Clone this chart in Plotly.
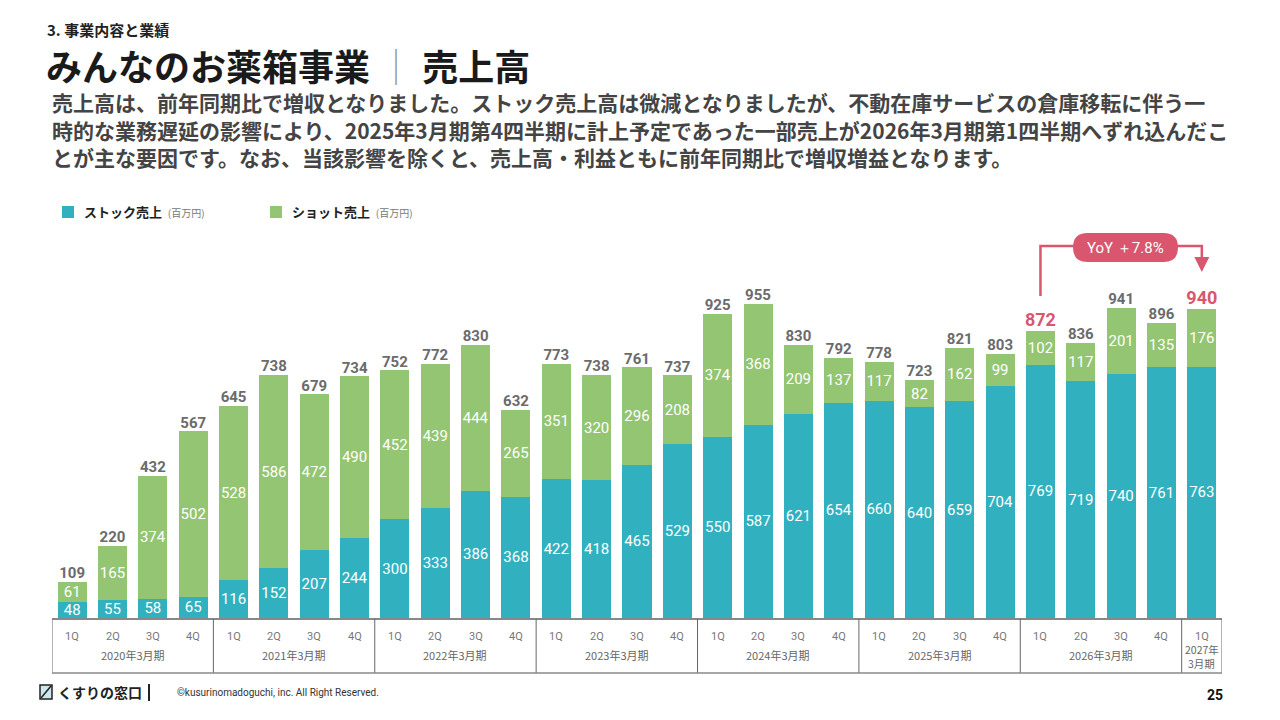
import plotly.graph_objects as go

# dados (百万円)
quarters = ["1Q", "2Q", "3Q", "4Q"] * 7 + ["1Q"]
fiscal_years = ["2020年3月期", "2021年3月期", "2022年3月期", "2023年3月期",
                "2024年3月期", "2025年3月期", "2026年3月期", "2027年", "3月期"]
stock = [48, 55, 58, 65, 116, 152, 207, 244, 300, 333, 386, 368, 422, 418, 465, 529,
         550, 587, 621, 654, 660, 640, 659, 704, 769, 719, 740, 761, 763]
shot = [61, 165, 374, 502, 528, 586, 472, 490, 452, 439, 444, 265, 351, 320, 296, 208,
        374, 368, 209, 137, 117, 82, 162, 99, 102, 117, 201, 135, 176]
totals = [109, 220, 432, 567, 645, 738, 679, 734, 752, 772, 830, 632, 773, 738, 761, 737,
          925, 955, 830, 792, 778, 723, 821, 803, 872, 836, 941, 896, 940]
highlight = [24, 28]
yoy_text = "YoY ＋7.8%"

TEAL = "#31b1bf"
GREEN = "#93c572"
PINK = "#d9566e"
GRAY = "#6b6b6b"
JP = "Noto Sans CJK JP"
NUM = "Roboto"

x = list(range(len(stock)))

# a página desloca a figura 8px (margem do body): coordenadas abaixo são do slide
OFF = 8
PLOT_LEFT, PLOT_RIGHT = 52, 1222
PLOT_TOP, PLOT_BOTTOM = 220, 618
Y_MAX = 1209


def px(p):
    return (p - PLOT_LEFT) / (PLOT_RIGHT - PLOT_LEFT)


def py(p):
    return (PLOT_BOTTOM - p) / (PLOT_BOTTOM - PLOT_TOP)


def val(p):
    return py(p) * Y_MAX


def cat(p):
    return px(p) * 29 - 0.5


fig = go.Figure()

fig.add_trace(go.Bar(
    x=x, y=stock, name="ストック売上",
    marker=dict(color=TEAL, line=dict(width=0)),
    text=stock, textposition="inside", insidetextanchor="middle", textangle=0,
    textfont=dict(color="white", size=15, family=NUM),
))
fig.add_trace(go.Bar(
    x=x, y=shot, name="ショット売上",
    marker=dict(color=GREEN, line=dict(width=0)),
    text=shot, textposition="inside", insidetextanchor="middle", textangle=0,
    textfont=dict(color="white", size=15, family=NUM),
))

# totais
tot_colors = [PINK if i in highlight else GRAY for i in x]
tot_sizes = [18 if i in highlight else 15 for i in x]
fig.add_trace(go.Scatter(
    x=x, y=totals, mode="text", text=[f"<b>{t}</b>" for t in totals],
    textposition="top center", showlegend=False, hoverinfo="skip",
    textfont=dict(color=tot_colors, size=tot_sizes, family=NUM),
))

annotations = []
shapes = []

# tabela do eixo x
for i, q in enumerate(quarters):
    annotations.append(dict(x=i, y=py(636), xref="x", yref="paper", yanchor="middle", text=q,
                            showarrow=False, font=dict(size=11, color="#777", family=NUM)))
for k, fy in enumerate(fiscal_years[:7]):
    annotations.append(dict(x=4 * k + 1.5, y=py(655), xref="x", yref="paper", yanchor="middle", text=fy,
                            showarrow=False, font=dict(size=11, color="#666", family=JP)))
annotations.append(dict(x=28, y=py(649), xref="x", yref="paper", yanchor="middle", text=fiscal_years[7],
                        showarrow=False, font=dict(size=10.5, color="#666", family=JP)))
annotations.append(dict(x=28, y=py(663), xref="x", yref="paper", yanchor="middle", text=fiscal_years[8],
                        showarrow=False, font=dict(size=10.5, color="#666", family=JP)))

for b in [-0.5, 3.5, 7.5, 11.5, 15.5, 19.5, 23.5, 27.5, 28.5]:
    shapes.append(dict(type="line", xref="x", yref="paper", x0=b, x1=b, y0=py(619), y1=py(673),
                       line=dict(color="#666", width=1)))
shapes.append(dict(type="line", xref="x", yref="paper", x0=-0.5, x1=28.5, y0=py(673), y1=py(673),
                   line=dict(color="#888", width=1.5)))

# YoY
x_l, x_r = highlight
y_h = val(246)
shapes.append(dict(type="path", xref="x", yref="y",
                   path=f"M {x_l},{val(296)} L {x_l},{y_h} L {x_r},{y_h} L {x_r},{val(262)}",
                   line=dict(color=PINK, width=2.5)))
annotations.append(dict(x=x_r, y=val(272), ax=x_r, ay=val(262), xref="x", yref="y", axref="x", ayref="y",
                        text="", showarrow=True, arrowhead=2, arrowsize=1.2, arrowwidth=2.5,
                        arrowcolor=PINK))
bx0, bx1 = cat(1073), cat(1178)
by0, by1 = val(262), val(233)
rx = 14.5 / ((PLOT_RIGHT - PLOT_LEFT) / 29)
pill = (f"M {bx0 + rx},{by0} L {bx1 - rx},{by0} Q {bx1},{by0} {bx1},{(by0 + by1) / 2} "
        f"Q {bx1},{by1} {bx1 - rx},{by1} L {bx0 + rx},{by1} Q {bx0},{by1} {bx0},{(by0 + by1) / 2} "
        f"Q {bx0},{by0} {bx0 + rx},{by0} Z")
shapes.append(dict(type="path", xref="x", yref="y", path=pill, fillcolor=PINK, line=dict(width=0)))
annotations.append(dict(x=(bx0 + bx1) / 2, y=(by0 + by1) / 2, xref="x", yref="y", text=yoy_text,
                        showarrow=False, font=dict(size=15, color="white", family=NUM)))


def txt(xp, yp, text, size, color, family=JP, anchor="left", align="left"):
    annotations.append(dict(x=px(xp), y=py(yp), xref="paper", yref="paper", xanchor=anchor,
                            yanchor="middle", text=text, showarrow=False, align=align,
                            font=dict(size=size, color=color, family=family)))


# legenda manual
legend_items = [(fig.data[0].name, TEAL, 62), (fig.data[1].name, GREEN, 270)]
for label, color, lx in legend_items:
    shapes.append(dict(type="rect", xref="paper", yref="paper", x0=px(lx), x1=px(lx + 12),
                       y0=py(218), y1=py(206), fillcolor=color, line=dict(width=0)))
    txt(lx + 20, 212, f"<b>{label}</b>  <span style='font-size:10px;color:#777'>(百万円)</span>", 13, "#222")

# títulos
txt(45, 29, "<b>3. 事業内容と業績</b>", 15, "#222")
txt(44, 65, "<b>みんなのお薬箱事業</b> <span style='color:#999'>│</span> <b>売上高</b>", 36, "#1a1a1a")
body_lines = [
    "売上高は、前年同期比で増収となりました。ストック売上高は微減となりましたが、不動在庫サービスの倉庫移転に伴う一",
    "時的な業務遅延の影響により、2025年3月期第4四半期に計上予定であった一部売上が2026年3月期第1四半期へずれ込んだこ",
    "とが主な要因です。なお、当該影響を除くと、売上高・利益ともに前年同期比で増収増益となります。",
]
for j, line in enumerate(body_lines):
    txt(50, 102.5 + 27.5 * j, f"<b>{line}</b>", 21, "#444")

# rodapé
txt(56, 692, "<b>くすりの窓口</b>", 14, "#222")
txt(175, 692, "©kusurinomadoguchi, inc. All Right Reserved.", 10, "#333", family=NUM)
txt(1215, 695, "<b>25</b>", 14, "#111", family=NUM, anchor="center")
shapes.append(dict(type="rect", xref="paper", yref="paper", x0=px(40), x1=px(52),
                   y0=py(699), y1=py(685), fillcolor="#cfe6ee", line=dict(color="#222", width=1.5)))
shapes.append(dict(type="line", xref="paper", yref="paper", x0=px(41), x1=px(51),
                   y0=py(698), y1=py(686), line=dict(color="#222", width=1.5)))
shapes.append(dict(type="line", xref="paper", yref="paper", x0=px(149), x1=px(149),
                   y0=py(701), y1=py(684), line=dict(color="#222", width=2)))

fig.update_layout(
    width=1280, height=720,
    barmode="stack", bargap=0.28,
    plot_bgcolor="white", paper_bgcolor="white",
    margin=dict(l=PLOT_LEFT - OFF, r=1280 - PLOT_RIGHT + OFF, t=PLOT_TOP - OFF, b=720 - PLOT_BOTTOM + OFF,
                autoexpand=False),
    xaxis=dict(range=[-0.5, 28.5], showticklabels=False, showgrid=False, zeroline=False,
               showline=True, linecolor="#888", linewidth=1.5, fixedrange=True),
    yaxis=dict(range=[0, Y_MAX], visible=False, fixedrange=True),
    uniformtext=dict(minsize=15, mode="show"),
    showlegend=False,
    annotations=annotations, shapes=shapes,
    font=dict(family=JP),
)

fig.write_html("out.html")
